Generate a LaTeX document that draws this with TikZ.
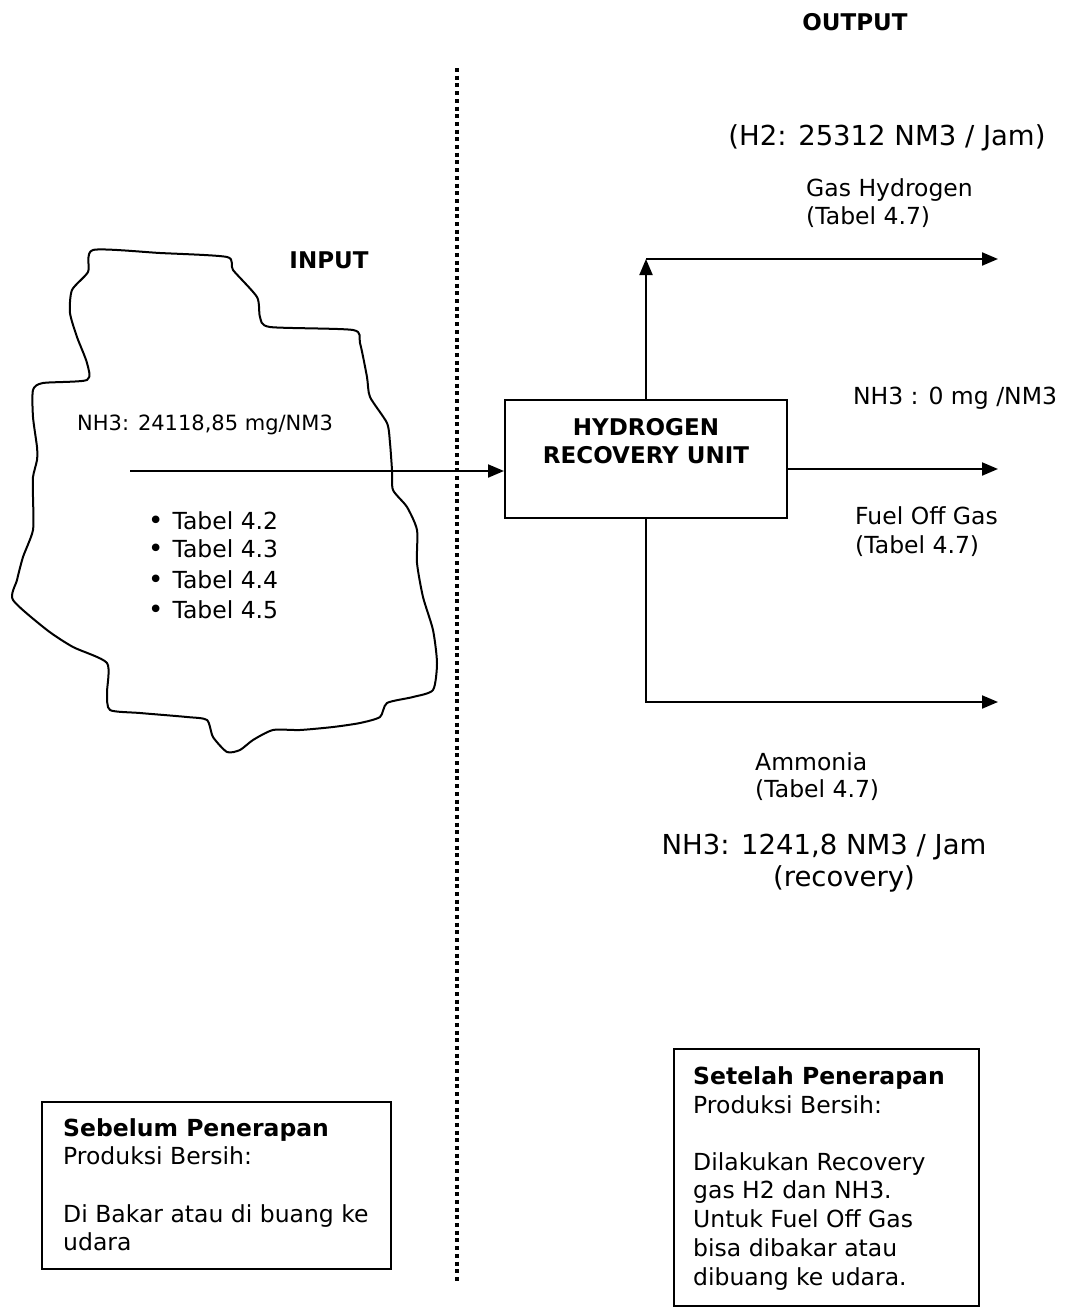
\documentclass[tikz,border=0pt]{standalone}
\usepackage{fontspec}
\setmainfont{DejaVu Sans}
\usetikzlibrary{arrows.meta}
\begin{document}
\begin{tikzpicture}[x=1pt,y=-1pt,
  txt/.style={inner sep=0, font=\fontsize{23.5}{28.5}\selectfont},
  bigtxt/.style={inner sep=0, font=\fontsize{27.5}{33}\selectfont},
  smalltxt/.style={inner sep=0, font=\fontsize{21}{26}\selectfont},
  head/.style={inner sep=0, font=\bfseries\fontsize{23}{28}\selectfont},
  unitbox/.style={draw, line width=2pt, minimum width=282, minimum height=118, inner sep=0},
  infobox/.style={draw, line width=2pt, inner sep=0},
  flow/.style={line width=2pt, -{Triangle[length=16pt,width=13pt]}},
  dotline/.style={line width=3.5pt, dash pattern=on 4pt off 3.7pt},
  blob/.style={line width=2pt, line join=round}]
\useasboundingbox (0,0) rectangle (1065,1309);
\newcommand{\blt}{{\fontsize{26}{26}\selectfont•}\hspace{9pt}}

% dotted divider
\coordinate (dTop) at (457,68);
\coordinate (dBot) at (457,1282);
\draw[dotline] (dTop) -- (dBot);

% headings
\node[head, anchor=base] (outH) at (855,30) {OUTPUT};
\node[head, anchor=base] (inH) at (329,268) {INPUT};

% input blob
\draw[blob] plot[smooth cycle, tension=0.4] coordinates {
 (93,250) (160,253) (227,257) (233,270) (257,297) (260,317) (270,327) (353,330)
 (360,343) (367,377) (370,397) (387,423) (390,443) (392,470) (393,490) (407,507)
 (417,530) (417,563) (423,597) (433,630) (437,663) (433,690) (413,697) (387,703)
 (380,717) (360,723) (333,727) (300,730) (273,730) (253,740) (240,750) (227,752)
 (213,737) (207,720) (187,717) (140,713) (110,710) (107,693) (107,663) (73,647)
 (47,630) (13,600) (17,580) (23,557) (33,530) (33,497) (33,477) (37,460)
 (37,447) (33,417) (33,390) (43,383) (87,380) (87,363) (77,337) (70,313)
 (72,290) (88,272)};

\node[smalltxt, anchor=base west] (nh3in) at (77,430) {NH3: 24118,85 mg/NM3};
\node[txt, anchor=base west] (t42) at (148,529) {\blt Tabel 4.2};
\node[txt, anchor=base west] (t43) at (148,557) {\blt Tabel 4.3};
\node[txt, anchor=base west] (t44) at (148,588) {\blt Tabel 4.4};
\node[txt, anchor=base west] (t45) at (148,618) {\blt Tabel 4.5};

% unit
\node[unitbox] (hru) at (646,459) {};
\node[head, anchor=base] (hru1) at (646,435) {HYDROGEN};
\node[head, anchor=base] (hru2) at (646,463) {RECOVERY UNIT};

% flows
\coordinate (inStart) at (130,471);
\draw[flow] (inStart) -- (inStart -| hru.west);

\coordinate (topCorner) at (646,259);
\coordinate (topEnd) at (998,259);
\draw[flow] (hru.north) -- (topCorner);
\draw[flow] (topCorner) -- (topEnd);

\coordinate (midStart) at (787,469);
\coordinate (midEnd) at (998,469);
\draw[flow] (midStart -| hru.east) -- (midEnd);

\coordinate (botCorner) at (646,702);
\coordinate (botEnd) at (998,702);
\draw[flow, line join=miter] (hru.south) -- (botCorner) -- (botEnd);

% output labels
\node[bigtxt, anchor=base] (h2) at (887,145) {(H2: 25312 NM3 / Jam)};
\node[txt, anchor=base west] (gh1) at (806,196) {Gas Hydrogen};
\node[txt, anchor=base west] (gh2) at (806,224) {(Tabel 4.7)};
\node[txt, anchor=base] (nh3zero) at (955,404) {NH3 : 0 mg /NM3};
\node[txt, anchor=base west] (fo1) at (855,524) {Fuel Off Gas};
\node[txt, anchor=base west] (fo2) at (855,553) {(Tabel 4.7)};
\node[txt, anchor=base west] (am1) at (755,770) {Ammonia};
\node[txt, anchor=base west] (am2) at (755,797) {(Tabel 4.7)};
\node[bigtxt, anchor=base] (nh3rec) at (824,854) {NH3: 1241,8 NM3 / Jam};
\node[bigtxt, anchor=base] (recov) at (844,886) {(recovery)};

% info boxes
\node[infobox, anchor=north west, minimum width=349, minimum height=167] (before) at (41,1101) {};
\node[txt, anchor=base west] (b1) at (63,1136) {\bfseries Sebelum Penerapan};
\node[txt, anchor=base west] (b2) at (63,1164) {Produksi Bersih:};
\node[txt, anchor=base west] (b3) at (63,1222) {Di Bakar atau di buang ke};
\node[txt, anchor=base west] (b4) at (63,1250) {udara};

\node[infobox, anchor=north west, minimum width=305, minimum height=257] (after) at (673,1048) {};
\node[txt, anchor=base west] (a1) at (693,1084) {\bfseries Setelah Penerapan};
\node[txt, anchor=base west] (a2) at (693,1113) {Produksi Bersih:};
\node[txt, anchor=base west] (a3) at (693,1170) {Dilakukan Recovery};
\node[txt, anchor=base west] (a4) at (693,1198) {gas H2 dan NH3.};
\node[txt, anchor=base west] (a5) at (693,1227) {Untuk Fuel Off Gas};
\node[txt, anchor=base west] (a6) at (693,1256) {bisa dibakar atau};
\node[txt, anchor=base west] (a7) at (693,1285) {dibuang ke udara.};
\end{tikzpicture}
\end{document}
